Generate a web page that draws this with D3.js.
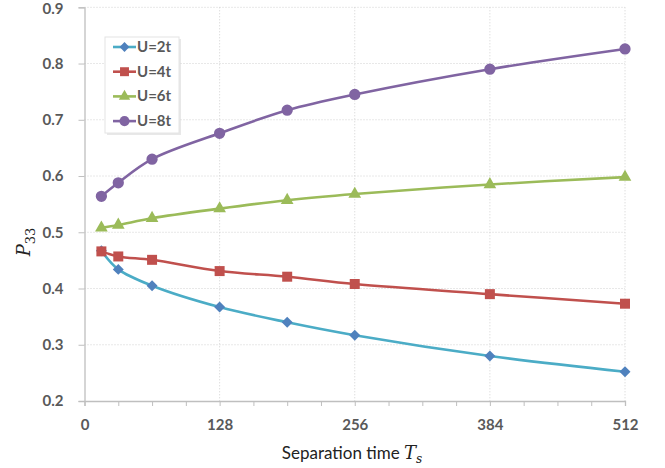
<!DOCTYPE html>
<html>
<head>
<meta charset="utf-8">
<script src="https://cdn.jsdelivr.net/npm/d3@7"></script>
<style>
  body { margin: 0; background: #fff; }
  svg { display: block; }
</style>
</head>
<body>
<div id="chart"></div>
<script>
let w = 665;
let h = 468;

// data
let times = [16, 32, 64, 128, 192, 256, 384, 512];
let u2 = [0.467, 0.434, 0.405, 0.367, 0.340, 0.317, 0.280, 0.252];
let u4 = [0.466, 0.457, 0.451, 0.431, 0.421, 0.408, 0.390, 0.373];
let u6 = [0.508, 0.513, 0.525, 0.542, 0.557, 0.568, 0.585, 0.598];
let u8 = [0.564, 0.588, 0.630, 0.676, 0.717, 0.745, 0.790, 0.826];
let seriesNames = ["U=2t", "U=4t", "U=6t", "U=8t"];
let xTicks = [0, 128, 256, 384, 512];
let yTicks = [0.2, 0.3, 0.4, 0.5, 0.6, 0.7, 0.8, 0.9];

// square turned 45 degrees, like the Excel diamond marker
let squareDiamond = {
  draw: function (context, size) {
    let r = Math.sqrt(size) / Math.SQRT2;
    context.moveTo(0, -r);
    context.lineTo(r, 0);
    context.lineTo(0, r);
    context.lineTo(-r, 0);
    context.closePath();
  }
};

let styles = [
  { line: "#4BACC6", fill: "#4F81BD", shape: squareDiamond, size: 60 },
  { line: "#C0504D", fill: "#C0504D", shape: d3.symbolSquare, size: 100 },
  { line: "#9BBB59", fill: "#9BBB59", shape: d3.symbolTriangle, size: 70 },
  { line: "#8064A2", fill: "#8064A2", shape: d3.symbolCircle, size: 100 }
];

let series = [u2, u4, u6, u8].map((vals, i) => {
  return { name: seriesNames[i], points: vals.map((v, j) => [times[j], v]), style: styles[i] };
});

let plotLeft = 84.5, plotRight = 625, plotTop = 7.3, plotBottom = 401;
let textColor = "#595959";
let font = "Lato, 'Open Sans', sans-serif";

let xScale = d3.scaleLinear().domain([0, 512]).range([plotLeft, plotRight]);
let yScale = d3.scaleLinear().domain([0.2, 0.9]).range([plotBottom, plotTop]);

let viz = d3.select("#chart")
  .append("svg")
  .attr("width", w)
  .attr("height", h)
  .style("background-color", "white");

// grid
let grid = viz.append("g").attr("class", "grid");
grid.selectAll(".hgrid")
  .data(yTicks.filter(d => d > 0.2))
  .enter().append("line")
  .attr("x1", plotLeft).attr("x2", plotRight)
  .attr("y1", d => yScale(d)).attr("y2", d => yScale(d))
  .attr("stroke", "#d0d0d0").attr("stroke-width", 1)
  .attr("stroke-dasharray", "1,2");
grid.selectAll(".vgrid")
  .data(xTicks.filter(d => d > 0))
  .enter().append("line")
  .attr("x1", d => xScale(d)).attr("x2", d => xScale(d))
  .attr("y1", plotTop).attr("y2", plotBottom)
  .attr("stroke", "#d0d0d0").attr("stroke-width", 1)
  .attr("stroke-dasharray", "1,2");

// axes
let yAxis = d3.axisLeft(yScale).tickValues(yTicks).tickFormat(d3.format(".1f")).tickSize(6).tickPadding(15);
let yAxisGroup = viz.append("g").attr("transform", "translate(" + plotLeft + ",0)").call(yAxis);

let minorTicks = d3.range(0, 513, 32);
let xAxis = d3.axisBottom(xScale).tickValues(minorTicks).tickFormat(d => xTicks.includes(d) ? d : "").tickSize(5).tickPadding(13);
let xAxisGroup = viz.append("g").attr("transform", "translate(0," + plotBottom + ")").call(xAxis);

[yAxisGroup, xAxisGroup].forEach(g => {
  g.select(".domain").attr("stroke", "#bfbfbf").attr("stroke-width", 1.3);
  g.selectAll(".tick line").attr("stroke", "#bfbfbf");
  g.selectAll(".tick text")
    .attr("fill", textColor)
    .style("font-family", font)
    .style("font-weight", "bold")
    .style("font-size", "15px");
});
// keep the top label inside the picture
yAxisGroup.selectAll(".tick text").filter(d => d === 0.9).attr("dy", "0.42em");

// lines
let line = d3.line()
  .x(d => xScale(d[0]))
  .y(d => yScale(d[1]))
  .curve(d3.curveCatmullRom.alpha(0.5));

let plot = viz.append("g").attr("class", "plot");
series.forEach(s => {
  plot.append("path")
    .datum(s.points)
    .attr("d", line)
    .attr("fill", "none")
    .attr("stroke", s.style.line)
    .attr("stroke-width", 2.6);
});
series.forEach(s => {
  plot.selectAll(null)
    .data(s.points)
    .enter().append("path")
    .attr("d", d3.symbol().type(s.style.shape).size(s.style.size))
    .attr("transform", d => "translate(" + xScale(d[0]) + "," + yScale(d[1]) + ")")
    .attr("fill", s.style.fill);
});

// legend
let legend = viz.append("g").attr("transform", "translate(105,37)");
legend.append("rect")
  .attr("x", 2).attr("y", 2).attr("width", 74).attr("height", 96)
  .attr("fill", "#d8d8d8").attr("opacity", 0.6);
legend.append("rect")
  .attr("x", 0).attr("y", 0).attr("width", 74).attr("height", 96)
  .attr("fill", "white").attr("stroke", "#e4e4e4");
let items = legend.selectAll(".item")
  .data(series)
  .enter().append("g")
  .attr("transform", (d, i) => "translate(0," + (10 + i * 24.7) + ")");
items.append("line")
  .attr("x1", 8).attr("x2", 31).attr("y1", 0).attr("y2", 0)
  .attr("stroke", d => d.style.line).attr("stroke-width", 2.6);
items.append("path")
  .attr("d", d => d3.symbol().type(d.style.shape).size(d.style.size * 0.8)())
  .attr("transform", "translate(19.5,0)")
  .attr("fill", d => d.style.fill);
items.append("text")
  .attr("x", 32).attr("y", 5)
  .text(d => d.name)
  .attr("fill", textColor)
  .style("font-family", font)
  .style("font-weight", "bold")
  .style("font-size", "15px");

// axis titles
let xTitle = viz.append("text")
  .attr("x", 352).attr("y", 459)
  .attr("text-anchor", "middle")
  .attr("fill", "#222")
  .style("font-family", font)
  .style("font-size", "17px");
xTitle.append("tspan").text("Separation time ");
xTitle.append("tspan").text("T").style("font-family", "'DejaVu Serif', serif").style("font-style", "italic").style("font-size", "18px");
xTitle.append("tspan").text("s").attr("dy", 4).style("font-family", "'DejaVu Serif', serif").style("font-style", "italic").style("font-size", "12px");

let yTitle = viz.append("text")
  .attr("transform", "translate(30,242) rotate(-90)")
  .attr("text-anchor", "middle")
  .attr("fill", "#222")
  .style("font-family", "'DejaVu Serif', serif")
  .style("font-size", "18px");
yTitle.append("tspan").text("P").style("font-style", "italic");
yTitle.append("tspan").text("33").attr("dy", 5).style("font-size", "13px");
</script>
</body>
</html>
